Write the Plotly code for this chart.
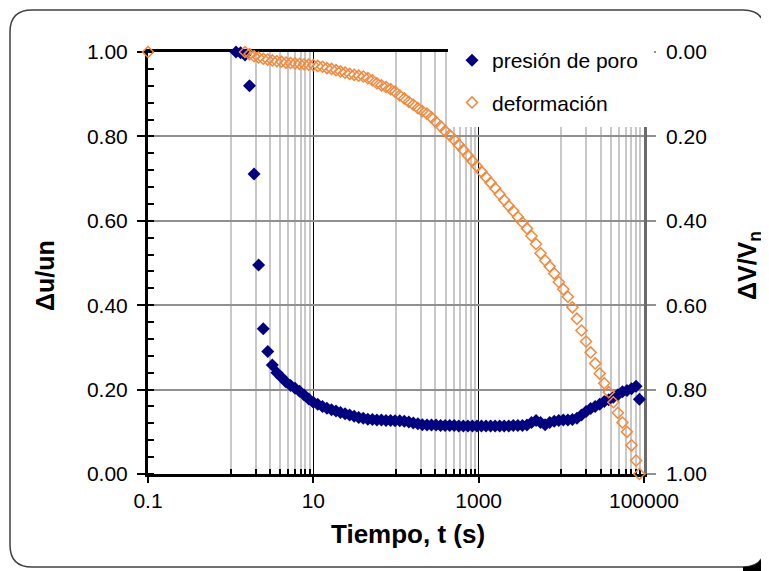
import plotly.graph_objects as go

# ---------------- data ----------------
t_poro = [1.16, 1.32, 1.49, 1.69, 1.92, 2.18, 2.48, 2.81, 3.19, 3.62, 4.11, 4.67, 5.30, 6.01,
          6.82, 7.74, 8.79, 9.98, 11.3, 12.9, 14.6, 16.6, 18.8, 21.3, 24.2, 27.5, 31.2, 35.4,
          40.2, 45.6, 51.8, 58.7, 66.7, 75.7, 85.9, 97.5, 111, 126, 143, 162, 184, 208, 237,
          269, 305, 346, 393, 446, 506, 574, 652, 740, 839, 953, 1081, 1227, 1393, 1581, 1795,
          2037, 2312, 2624, 2979, 3381, 3837, 4355, 4943, 5610, 6368, 7228, 8204, 9311, 10568,
          11995, 13614, 15453, 17539, 19907, 22594, 25645, 29107, 33037, 37497, 42560, 48306,
          54828, 62230, 70632, 80168, 88000]
u_poro = [1.000, 0.998, 0.993, 0.920, 0.711, 0.495, 0.344, 0.290, 0.258, 0.240, 0.229, 0.218,
          0.210, 0.203, 0.196, 0.187, 0.178, 0.170, 0.165, 0.160, 0.156, 0.152, 0.149, 0.146,
          0.143, 0.140, 0.137, 0.134, 0.132, 0.130, 0.129, 0.128, 0.128, 0.127, 0.127, 0.126,
          0.126, 0.125, 0.123, 0.121, 0.119, 0.117, 0.116, 0.116, 0.116, 0.115, 0.115, 0.115,
          0.115, 0.114, 0.114, 0.114, 0.114, 0.114, 0.114, 0.114, 0.114, 0.114, 0.114, 0.114,
          0.114, 0.115, 0.115, 0.115, 0.116, 0.122, 0.127, 0.122, 0.117, 0.122, 0.125, 0.127,
          0.128, 0.128, 0.129, 0.132, 0.140, 0.148, 0.155, 0.160, 0.165, 0.172, 0.176, 0.182,
          0.188, 0.195, 0.198, 0.202, 0.208, 0.177]

t_def = [0.1, 1.49, 1.69, 1.92, 2.18, 2.48, 2.81, 3.19, 3.62, 4.11, 4.67, 5.30, 6.01, 6.82,
         7.74, 8.79, 9.98, 11.3, 12.9, 14.6, 16.6, 18.8, 21.3, 24.2, 27.5, 31.2, 35.4, 40.2,
         45.6, 51.8, 58.7, 66.7, 75.7, 85.9, 97.5, 111, 126, 143, 162, 184, 208, 237, 269, 305,
         346, 393, 446, 506, 574, 652, 740, 839, 953, 1081, 1227, 1393, 1581, 1795, 2037, 2312,
         2624, 2979, 3381, 3837, 4355, 4943, 5610, 6368, 7228, 8204, 9311, 10568, 11995, 13614,
         15453, 17539, 19907, 22594, 25645, 29107, 33037, 37497, 42560, 48306, 54828, 62230,
         70632, 80168, 88000]
dv_def = [0.000, 0.000, 0.005, 0.010, 0.013, 0.016, 0.018, 0.020, 0.022, 0.023, 0.025, 0.026,
          0.027, 0.028, 0.029, 0.030, 0.031, 0.033, 0.035, 0.038, 0.040, 0.043, 0.046, 0.049,
          0.052, 0.054, 0.056, 0.058, 0.062, 0.067, 0.074, 0.079, 0.083, 0.088, 0.094, 0.103,
          0.110, 0.118, 0.125, 0.133, 0.140, 0.146, 0.155, 0.166, 0.176, 0.187, 0.197, 0.208,
          0.220, 0.232, 0.245, 0.258, 0.271, 0.284, 0.297, 0.310, 0.323, 0.337, 0.351, 0.365,
          0.377, 0.391, 0.404, 0.418, 0.436, 0.455, 0.477, 0.494, 0.508, 0.525, 0.545, 0.562,
          0.580, 0.605, 0.632, 0.660, 0.686, 0.712, 0.738, 0.762, 0.785, 0.806, 0.830, 0.855,
          0.878, 0.900, 0.932, 0.968, 1.000]

x_major = [0.1, 10, 1000, 100000]
x_major_text = ["0.1", "10", "1000", "100000"]
x_minor = [1, 2, 3, 4, 5, 6, 7, 8, 9,
           100, 200, 300, 400, 500, 600, 700, 800, 900,
           10000, 20000, 30000, 40000, 50000, 60000, 70000, 80000, 90000]
y_ticks = [0, 0.2, 0.4, 0.6, 0.8, 1.0]
y_left_text = ["0.00", "0.20", "0.40", "0.60", "0.80", "1.00"]
y_right_text = ["0.00", "0.20", "0.40", "0.60", "0.80", "1.00"]

# ---------------- layout geometry (window pixels, page has an 8px body margin) ----------------
OFF = 8
W, H = 761, 563
PL, PT, PW, PH = 148, 52, 496, 422          # plot area in window pixels
ML, MT = PL - OFF, PT - OFF
MR, MB = W - ML - PW, H - MT - PH
FONT = "Liberation Sans, Arial, sans-serif"


def px2paper(px, py):
    return (px - PL) / PW, (PT + PH - py) / PH


def path_from(cmds):
    out = []
    for c in cmds:
        s = c[0]
        for (a, b) in c[1:]:
            X, Y = px2paper(a, b)
            s += " %.5f,%.5f" % (X, Y)
        out.append(s)
    return " ".join(out) + " Z"


def rrect(x0, y0, x1, y1, r):
    return path_from([
        ("M", (x0 + r, y0)), ("L", (x1 - r, y0)), ("Q", (x1, y0), (x1, y0 + r)),
        ("L", (x1, y1 - r)), ("Q", (x1, y1), (x1 - r, y1)), ("L", (x0 + r, y1)),
        ("Q", (x0, y1), (x0, y1 - r)), ("L", (x0, y0 + r)), ("Q", (x0, y0), (x0 + r, y0)),
    ])


fig = go.Figure()

fig.add_trace(go.Scatter(
    x=t_poro, y=u_poro, mode="markers", name="presión de poro",
    marker=dict(symbol="diamond", size=10, color="#000080", line=dict(width=0)),
    cliponaxis=False, legendgroup="a",
))
fig.add_trace(go.Scatter(
    x=t_def, y=dv_def, yaxis="y2", mode="markers", name="deformación",
    marker=dict(symbol="diamond-open", size=8.5, color="#F5883A", line=dict(width=1.5)),
    cliponaxis=False, legendgroup="b",
))

shapes = [
    dict(type="path", xref="paper", yref="paper", path=rrect(10, 10, 765, 567, 22),
         line=dict(color="#404040", width=1.5), fillcolor="white", layer="below"),
    dict(type="path", xref="paper", yref="paper",
         path=path_from([("M", (765, 545)), ("Q", (765, 567), (743, 567)), ("L", (743, 572)),
                         ("L", (770, 572)), ("L", (770, 545))]),
         line=dict(width=0), fillcolor="black", layer="below"),
    # white box behind the legend (hides grid and axis lines there)
    dict(type="rect", xref="paper", yref="paper",
         x0=px2paper(448, 0)[0], x1=px2paper(654, 0)[0],
         y0=px2paper(0, 127)[1], y1=px2paper(0, 36)[1],
         line=dict(width=0), fillcolor="white", layer="above"),
]

annotations = [
    dict(text="<b>Tiempo, t (s)</b>", x=px2paper(408, 0)[0], y=px2paper(0, 534)[1],
         xref="paper", yref="paper", showarrow=False, xanchor="center", yanchor="middle",
         font=dict(family=FONT, size=26, color="black")),
    dict(text="<b>Δu/un</b>", x=px2paper(45, 0)[0], y=px2paper(0, 276)[1],
         xref="paper", yref="paper", showarrow=False, xanchor="center", yanchor="middle",
         textangle=-90, font=dict(family=FONT, size=25, color="black")),
    dict(text="<b>ΔV/V<sub>n</sub></b>", x=px2paper(749, 0)[0], y=px2paper(0, 266)[1],
         xref="paper", yref="paper", showarrow=False, xanchor="center", yanchor="middle",
         textangle=-90, font=dict(family=FONT, size=25, color="black")),
]

fig.update_layout(
    width=W, height=H,
    margin=dict(l=ML, r=MR, t=MT, b=MB, autoexpand=False),
    paper_bgcolor="white", plot_bgcolor="rgba(0,0,0,0)",
    font=dict(family=FONT, size=21, color="black"),
    showlegend=True,
    legend=dict(x=px2paper(452, 0)[0], y=px2paper(0, 40)[1], xanchor="left", yanchor="top",
                bgcolor="rgba(0,0,0,0)", borderwidth=0, font=dict(family=FONT, size=21),
                tracegroupgap=12, itemwidth=30),
    xaxis=dict(
        type="log", range=[-1, 5], tickmode="array", tickvals=x_major, ticktext=x_major_text,
        showgrid=True, gridcolor="black", gridwidth=1,
        showline=True, linecolor="black", linewidth=3, mirror=True,
        ticks="outside", ticklen=6, tickwidth=1.5, tickcolor="black",
        tickfont=dict(family=FONT, size=21), ticklabelstandoff=0,
        minor=dict(tickmode="array", tickvals=x_minor, ticks="inside", ticklen=5,
                   tickcolor="black", tickwidth=1.5, showgrid=True,
                   gridcolor="#c8c8c8", gridwidth=1.5),
        zeroline=False, layer="below traces", automargin=False,
    ),
    yaxis=dict(
        range=[0, 1], tickmode="array", tickvals=y_ticks, ticktext=y_left_text,
        showgrid=True, gridcolor="#909090", gridwidth=1.5,
        showline=True, linecolor="black", linewidth=3,
        ticks="outside", ticklen=8, tickwidth=1.5, tickcolor="black",
        tickfont=dict(family=FONT, size=21), ticklabelstandoff=5,
        minor=dict(dtick=0.04, ticks="inside", ticklen=6, tickcolor="black", tickwidth=1.5,
                   showgrid=False),
        zeroline=False, layer="below traces", automargin=False,
    ),
    yaxis2=dict(
        overlaying="y", side="right", anchor="x",
        range=[1, 0], tickmode="array", tickvals=y_ticks, ticktext=y_right_text,
        showgrid=False, showline=True, linecolor="#6a6a6a", linewidth=2.5,
        ticks="outside", ticklen=9, tickwidth=1.5, tickcolor="#909090",
        tickfont=dict(family=FONT, size=21), ticklabelstandoff=6,
        zeroline=False, layer="below traces", automargin=False,
    ),
    shapes=shapes,
    annotations=annotations,
)

fig.write_html("out.html")
